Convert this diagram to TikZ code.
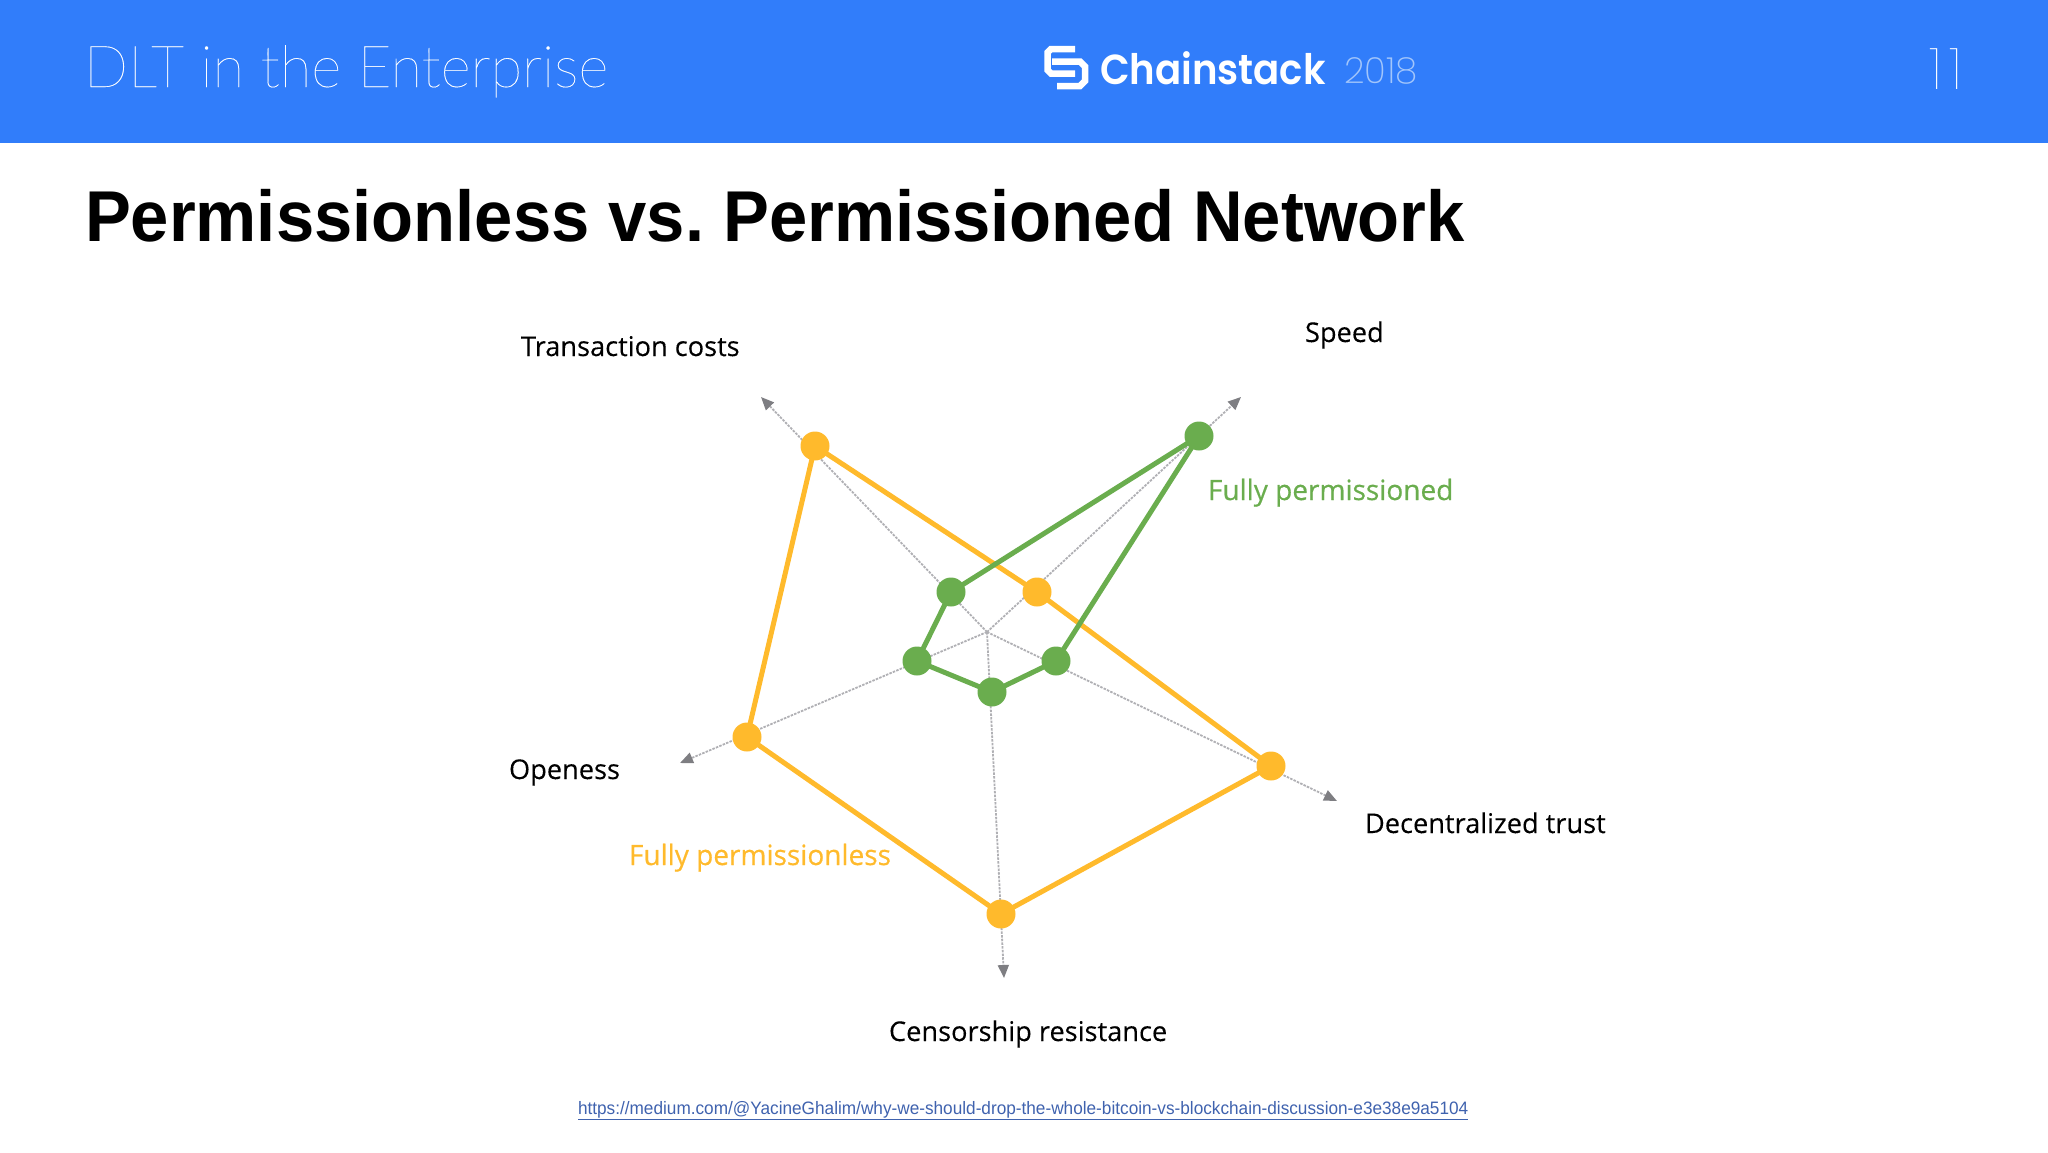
\documentclass[tikz,border=0pt]{standalone}
\usepackage{fontspec}
\setmainfont{Liberation Sans}
\newfontfamily\thinf[FakeBold=0.2]{Lato Thin}
\newfontfamily\pagef{Poppins Thin}
\newfontfamily\logof{Poppins SemiBold}
\newfontfamily\lightf{Poppins ExtraLight}
\newfontfamily\lab[FakeBold=0.15]{Open Sans}
\newfontfamily\labm[FakeBold=0.5]{Open Sans}
\usetikzlibrary{arrows.meta}
\frenchspacing
\definecolor{hdr}{HTML}{317DFA}
\definecolor{yel}{HTML}{FFBA2C}
\definecolor{grn}{HTML}{6AAD4E}
\definecolor{axisc}{HTML}{B0B0B4}
\definecolor{tipc}{HTML}{7E7E82}
\definecolor{lnk}{HTML}{3F62AE}
\definecolor{yr}{HTML}{A3C6FB}
\tikzset{
 txt/.style={anchor=base west,inner sep=0pt,outer sep=0pt},
 axisline/.style={draw=axisc,line width=1.8pt,dash pattern=on 2.5pt off 1.2pt,-{Triangle[length=13pt,width=11pt,color=tipc]}},
 ydot/.style={circle,fill=yel,minimum size=29pt,inner sep=0pt},
 gdot/.style={circle,fill=grn,minimum size=29pt,inner sep=0pt},
 yline/.style={draw=yel,line width=5pt,line join=round},
 gline/.style={draw=grn,line width=5pt,line join=round},
 axlabel/.style={txt,font=\lab\fontsize{27.2}{30}\selectfont,text=black},
 collabel/.style={txt,font=\labm\fontsize{28}{30}\selectfont},
 logostroke/.style={draw=white,line width=6.5pt,line join=miter,line cap=butt},
}
\begin{document}
\begin{tikzpicture}[x=1pt,y=-1pt]
\useasboundingbox (0,0) rectangle (2048,1152);
\fill[hdr] (0,0) rectangle (2048,143);
\node[txt,text=white,font=\thinf\fontsize{58}{70}\selectfont] (head) at (84,87) {DLT in the Enterprise};
\draw[logostroke] (1075,49) -- (1051,49) -- (1047.5,52.5) -- (1047.5,70) -- (1051,73.5) -- (1075,73.5);
\draw[logostroke] (1052,61.5) -- (1080,61.5) -- (1085,66.5) -- (1085,81) -- (1080,86) -- (1057,86);
\node[txt,text=white,font=\logof\fontsize{42}{48}\selectfont] (brand) at (1100,84) {\scalebox{0.92}[1]{Chainstack}};
\node[txt,text=yr,font=\lightf\fontsize{36}{40}\selectfont] (yeartxt) at (1344,83) {2018};
\node[txt,text=white,font=\pagef\fontsize{58}{60}\selectfont] (pg) at (1929,89) {1\kern7pt 1};
\node[txt,text=black,font=\bfseries\fontsize{72}{80}\selectfont] (title) at (85,241) {\scalebox{0.955}[1]{Permissionless vs. Permissioned Network}};
% geometry
\coordinate (c) at (987,632);
\coordinate (tTC) at (761,397);
\coordinate (tSp) at (1241,397);
\coordinate (tOp) at (680,763);
\coordinate (tDe) at (1337,801);
\coordinate (tCe) at (1004,978);
\foreach \t in {tTC,tSp,tOp,tDe,tCe} \draw[axisline] (c) -- (\t);
\coordinate (yTC) at (815,446);
\coordinate (ySp) at (1037,592);
\coordinate (yDe) at (1271,766);
\coordinate (yCe) at (1001,914);
\coordinate (yOp) at (747,737);
\coordinate (gTC) at (951,592);
\coordinate (gSp) at (1199,436);
\coordinate (gDe) at (1056,661);
\coordinate (gCe) at (992,692);
\coordinate (gOp) at (917,661);
\draw[yline] (yTC) -- (ySp) -- (yDe) -- (yCe) -- (yOp) -- cycle;
\draw[gline] (gTC) -- (gSp) -- (gDe) -- (gCe) -- (gOp) -- cycle;
\foreach \n in {yTC,ySp,yDe,yCe,yOp} \node[ydot] (d\n) at (\n) {};
\foreach \n in {gTC,gSp,gDe,gCe,gOp} \node[gdot] (d\n) at (\n) {};
\node[axlabel] (l1) at (521,356) {Transaction costs};
\node[axlabel] (l2) at (1305,342) {Speed};
\node[axlabel] (l3) at (509,779) {Openess};
\node[axlabel] (l4) at (1365,833) {Decentralized trust};
\node[axlabel] (l5) at (889,1041) {Censorship resistance};
\node[collabel,text=grn] (l6) at (1208,500) {Fully permissioned};
\node[collabel,text=yel] (l7) at (629,865) {Fully permissionless};
\node[txt,text=lnk,font=\fontsize{18}{20}\selectfont] (url) at (578,1114) {\scalebox{0.956}[1]{\underline{https://medium.com/@YacineGhalim/why-we-should-drop-the-whole-bitcoin-vs-blockchain-discussion-e3e38e9a5104}}};
\end{tikzpicture}
\end{document}
